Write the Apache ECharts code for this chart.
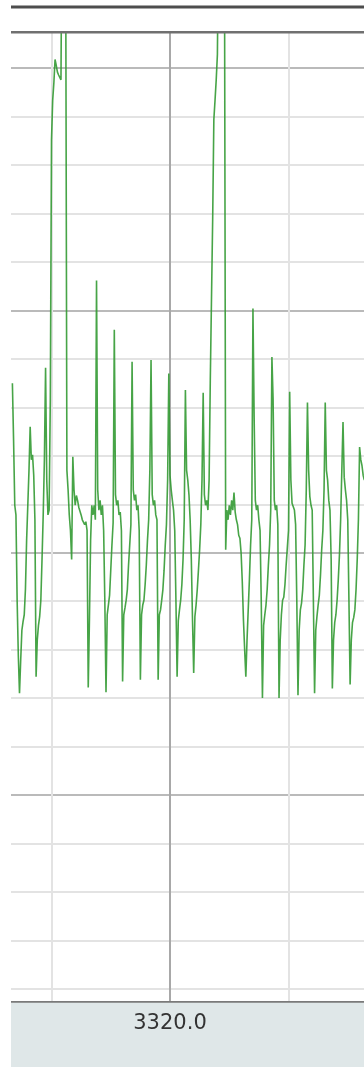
<!DOCTYPE html>
<html>
<head>
<meta charset="utf-8">
<script src="https://cdn.jsdelivr.net/npm/echarts@6/dist/echarts.min.js"></script>
<style>
  html, body { margin: 0; padding: 0; background: #fff; }
  #chart { width: 364px; height: 1067px; }
</style>
</head>
<body>
<div id="chart"></div>
<script>
// trace timing (seconds) - 500 Hz
const startTime = 3319.734;
const sampleStep = 0.002;

// amplitude in mV
const values = [
  1.75, 1.16, 0.49, 0.39, -0.49, -1.06, -1.45, -1.11, -0.80, -0.71,
  -0.64, -0.38, 0.13, 0.49, 0.85, 1.30, 0.96, 1.01, 0.80, 0.34,
  -1.28, -0.90, -0.75, -0.66, -0.49, -0.07, 0.39, 0.96, 1.91, 0.75,
  0.39, 0.44, 1.58, 4.26, 4.67, 4.85, 5.09, 5.03, 4.96, 4.93,
  4.91, 4.88, 7.0, 8.0, 7.5, 6.0, 0.85, 0.65, 0.39, 0.23,
  -0.07, 0.99, 0.65, 0.49, 0.59, 0.54, 0.47, 0.49, 0.39, 0.34,
  0.36, 0.29, 0.32, 0.23, -1.39, -0.70, 0.13, 0.49, 0.39, 0.49,
  0.34, 2.81, 0.65, 0.44, 0.54, 0.39, 0.49, 0.23, -0.49, -1.44,
  -0.64, -0.54, -0.44, -0.18, 0.08, 0.31, 2.30, 0.60, 0.49, 0.54,
  0.39, 0.42, 0.23, -1.33, -0.64, -0.57, -0.49, -0.38, -0.13, 0.08,
  0.29, 1.97, 0.65, 0.54, 0.60, 0.44, 0.49, 0.23, -1.31, -0.64,
  -0.54, -0.49, -0.33, -0.13, 0.13, 0.34, 0.85, 1.99, 0.60, 0.49,
  0.54, 0.39, 0.34, -1.31, -0.64, -0.59, -0.49, -0.38, -0.18, 0.08,
  0.29, 0.75, 1.85, 0.80, 0.65, 0.54, 0.44, 0.23, -0.49, -1.28,
  -0.70, -0.59, -0.49, -0.33, -0.07, 0.34, 1.68, 0.85, 0.75, 0.60,
  0.34, -0.07, -0.70, -1.24, -0.66, -0.54, -0.38, -0.18, 0.03, 0.29,
  0.75, 1.65, 0.60, 0.49, 0.54, 0.44, 0.75, 1.78, 2.61, 3.43,
  4.47, 4.67, 4.88, 5.14, 6.5, 8.0, 8.5, 8.0, 7.0, 6.0,
  0.03, 0.44, 0.34, 0.49, 0.39, 0.54, 0.44, 0.62, 0.42, 0.34,
  0.29, 0.18, 0.15, 0.00, -0.30, -0.70, -1.00, -1.28, -0.90, -0.59,
  -0.28, 0.08, 0.34, 2.52, 1.40, 0.54, 0.44, 0.49, 0.34, 0.23,
  -0.49, -1.50, -0.75, -0.64, -0.54, -0.38, -0.13, 0.08, 0.44, 2.02,
  1.58, 0.54, 0.44, 0.49, 0.29, -1.50, -0.90, -0.64, -0.49, -0.46,
  -0.33, -0.13, 0.05, 0.23, 1.66, 0.75, 0.51, 0.49, 0.44, 0.29,
  -0.49, -1.47, -0.80, -0.59, -0.52, -0.38, -0.13, 0.08, 0.65, 1.55,
  0.85, 0.58, 0.49, 0.44, -0.49, -1.45, -0.80, -0.66, -0.54, -0.44,
  -0.23, 0.03, 0.23, 0.65, 1.55, 0.85, 0.75, 0.54, 0.44, -0.07,
  -1.40, -0.90, -0.72, -0.64, -0.49, -0.28, -0.02, 0.34, 0.85, 1.35,
  0.78, 0.65, 0.54, 0.34, -0.49, -1.36, -0.90, -0.72, -0.67, -0.59,
  -0.38, -0.07, 0.34, 1.09, 0.96, 0.90, 0.80, 0.75
];

// grid paper: small boxes 0.2 s / 0.5 mV, big boxes every 5
const timeRange = [3319, 3321];
const timeMinor = 0.2;
const timeMajor = 1;
const mvRange = [-5, 5.5];
const mvMinor = 0.5;
const mvMajor = 2.5;

const points = values.map((v, i) => [startTime + i * sampleStep, v]);

const chart = echarts.init(document.getElementById("chart"), null, { renderer: "canvas" });

const hidden = { axisLine: { show: false }, axisTick: { show: false }, axisLabel: { show: false } };

chart.setOption({
  animation: false,
  // grid runs past the visible strip so the lines land on whole boxes
  grid: {
    left: -422.5, right: -398.5, top: 19.75, bottom: 29.75,
    containLabel: false, outerBoundsMode: "none",
  },
  xAxis: [
    {
      type: "value", min: timeRange[0], max: timeRange[1], interval: timeMinor,
      ...hidden,
      splitLine: { show: true, lineStyle: { color: "#e3e3e3", width: 2 } },
    },
    {
      type: "value", min: timeRange[0], max: timeRange[1], interval: timeMajor,
      ...hidden,
      splitLine: { show: true, lineStyle: { color: "#a8a8a8", width: 2 } },
    },
    {
      // label only, sits on top of the grey band
      type: "value", min: timeRange[0], max: timeRange[1], interval: timeMajor,
      position: "bottom", offset: -22, z: 20,
      axisLine: { show: false }, axisTick: { show: false },
      splitLine: { show: false },
      axisLabel: {
        show: true, margin: 8, verticalAlign: "middle",
        fontFamily: "DejaVu Sans", fontSize: 21, color: "#333",
        formatter: (v) => v.toFixed(1),
      },
    },
  ],
  yAxis: [
    {
      type: "value", min: mvRange[0], max: mvRange[1], interval: mvMinor,
      ...hidden,
      splitLine: { show: true, lineStyle: { color: "#e3e3e3", width: 2 } },
    },
    {
      type: "value", min: mvRange[0], max: mvRange[1], interval: mvMajor,
      ...hidden,
      splitLine: { show: true, lineStyle: { color: "#bababa", width: 2 } },
    },
  ],
  graphic: [
    { type: "rect", z: 10, shape: { x: 0, y: 0, width: 11, height: 1067 }, style: { fill: "#fff" } },
    { type: "rect", z: 10, shape: { x: 0, y: 0, width: 364, height: 32 }, style: { fill: "#fff" } },
    { type: "rect", z: 11, shape: { x: 11, y: 5.5, width: 353, height: 3 }, style: { fill: "#4d4d4d" } },
    { type: "rect", z: 11, shape: { x: 11, y: 31, width: 353, height: 2.5 }, style: { fill: "#707070" } },
    { type: "rect", z: 10, shape: { x: 11, y: 1001, width: 353, height: 66 }, style: { fill: "#dfe7e8" } },
    { type: "rect", z: 11, shape: { x: 11, y: 1001, width: 353, height: 1.8 }, style: { fill: "#7a7a7a" } },
  ],
  series: [
    {
      type: "line",
      xAxisIndex: 0,
      yAxisIndex: 0,
      data: points,
      showSymbol: false,
      clip: true,
      lineStyle: { color: "#339a33", width: 1.6, opacity: 0.9 },
    },
  ],
});
</script>
</body>
</html>
